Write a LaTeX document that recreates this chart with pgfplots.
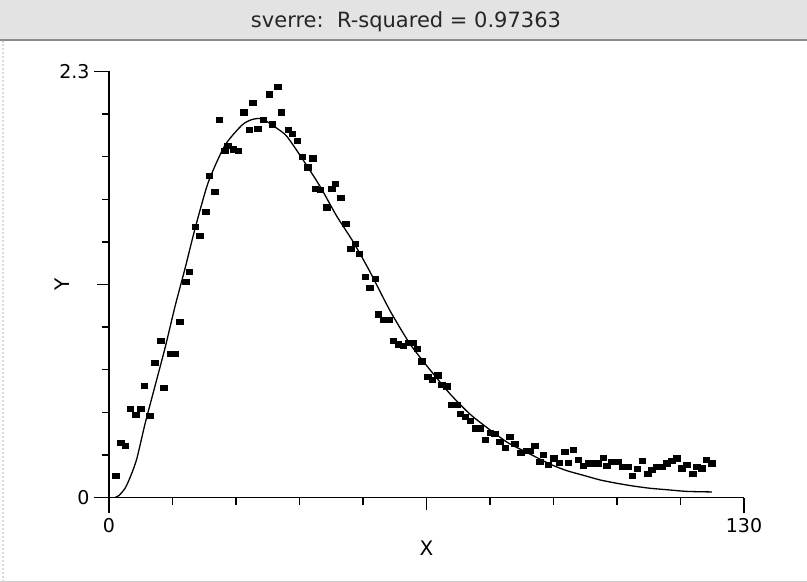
\documentclass[border=0pt]{standalone}
\usepackage{pgfplots}
\pgfplotsset{compat=1.18}
\usepackage{fontspec}
\setmainfont{DejaVu Sans}
\begin{document}
\begin{tikzpicture}
\useasboundingbox (-109bp,-84.5bp) rectangle (698bp,497.5bp);
% title bar
\fill[black!11] (-109bp,457bp) rectangle (698bp,497.5bp);
\draw[black!45,line width=1.2bp] (-109bp,457.5bp) -- (698bp,457.5bp);
\node[font=\fontsize{21bp}{24bp}\selectfont, text=black!85] at (297bp,475.5bp) {sverre:\ \ R-squared = 0.97363};
\draw[black!20,line width=1bp] (-109bp,-84bp) -- (698bp,-84bp);
\draw[black!15,line width=2bp,dotted] (-106bp,-84bp) -- (-106bp,457bp);
\begin{axis}[
  at={(0,0)}, anchor=south west,
  scale only axis, width=635bp, height=426bp,
  xmin=0, xmax=130, ymin=0, ymax=2.3,
  axis x line*=bottom, axis y line*=left,
  axis line style={-, line width=1.5bp},
  tick align=outside,
  xtick={0,130}, xticklabels={0,130},
  ytick={0,2.3}, yticklabels={0,2.3},
  minor xtick={13,26,39,52,78,91,104,117},
  minor ytick={0.23,0.46,0.69,0.92,1.38,1.61,1.84,2.07},
  extra x ticks={65}, extra x tick labels={},
  extra y ticks={1.15}, extra y tick labels={},
  extra tick style={major tick length=12bp},
  major tick length=15bp, minor tick length=7bp,
  every tick/.style={black, line width=1.5bp},
  tick label style={font=\fontsize{19bp}{22bp}\selectfont},
  /pgf/number format/assume math mode=true,
  xticklabel style={yshift=-2bp},
  yticklabel style={xshift=-1bp},
  xlabel={X}, ylabel={Y},
  label style={font=\fontsize{20bp}{23bp}\selectfont},
  xlabel style={at={(axis description cs:0.5,-0.118)}, anchor=center},
  ylabel style={at={(axis description cs:-0.074,0.5)}, anchor=center},
  clip=false,
]
\addplot[black, line width=1.3bp, no markers, smooth, tension=0.4] coordinates {
(1.2,0) (2,0.01) (3.3,0.05) (4.5,0.12) (5.7,0.21) (7.4,0.40) (9.4,0.60)
(11.5,0.81) (13.5,1.03) (15.6,1.24) (17.6,1.45) (20.3,1.70) (23.7,1.90)
(27.2,2.01) (29.2,2.04) (31.3,2.045) (34,2.00) (36.4,1.95) (39.8,1.82)
(43.2,1.68) (46.6,1.52) (50,1.38) (53.4,1.22) (57.5,1.01) (61.6,0.83)
(65.7,0.69) (69.8,0.56) (73.9,0.45) (78,0.365) (81.4,0.30) (83.5,0.27)
(86.9,0.225) (90.3,0.18) (93.7,0.145) (97.1,0.12) (100.5,0.095)
(103.9,0.077) (107.3,0.062) (110.7,0.05) (114.2,0.042) (118.3,0.033) (123.4,0.03)
};
\addplot[only marks, mark=square*, mark size=2.6bp, mark options={xscale=1.25, fill=black, draw=black}] coordinates {
(1.37,0.116) (2.4,0.296) (3.3,0.278) (4.3,0.478) (5.5,0.449) (6.5,0.478)
(7.2,0.602) (8.3,0.44) (9.4,0.728) (10.6,0.845) (11.2,0.593) (12.5,0.776)
(13.5,0.776) (14.5,0.949) (15.7,1.164) (16.4,1.22) (17.6,1.462) (18.6,1.414)
(19.8,1.543) (20.5,1.736) (21.6,1.65) (22.6,2.04) (23.7,1.871) (24.3,1.898)
(25.4,1.88) (26.5,1.871) (27.6,2.08) (28.7,1.984) (29.4,2.13) (30.4,1.99)
(31.6,2.04) (32.8,2.177) (33.4,2.015) (34.5,2.218) (35.3,2.08) (36.7,1.984)
(37.5,1.966) (38.5,1.927) (39.6,1.84) (40.7,1.783) (41.7,1.832) (42.2,1.667)
(43.2,1.66) (44.6,1.567) (45.6,1.667) (46.3,1.696) (47.4,1.62) (48.5,1.477)
(49.5,1.345) (50.4,1.372) (51.2,1.318) (52.4,1.192) (53.4,1.134) (54.5,1.183)
(55.1,0.99) (56.2,0.958) (57.3,0.958) (58.2,0.846) (59.2,0.828) (60.2,0.82)
(61.3,0.835) (62.3,0.835) (63.1,0.805) (64.0,0.736) (65.2,0.652) (66.2,0.634)
(67.3,0.66) (68.1,0.607) (69.1,0.601) (70.2,0.499) (71.2,0.499) (71.9,0.454)
(72.9,0.436) (73.9,0.415) (75.1,0.374) (75.9,0.374) (77.0,0.314) (78.0,0.35)
(79.0,0.343) (80.0,0.30) (81.1,0.27) (82.0,0.327) (83.1,0.289) (84.3,0.242)
(85.5,0.253) (86.2,0.253) (87.1,0.28) (88.2,0.193) (88.9,0.233) (89.9,0.175)
(91.0,0.212) (92.2,0.19) (93.3,0.247) (94.0,0.19) (95.0,0.256) (96.1,0.202)
(97.1,0.17) (98.1,0.185) (99.1,0.185) (100.2,0.185) (101.2,0.217) (101.9,0.17)
(102.9,0.193) (104.1,0.193) (105.1,0.166) (106.3,0.166) (107.1,0.116) (108.1,0.154)
(109.2,0.197) (110.3,0.127) (111.1,0.148) (112.1,0.166) (113.1,0.166) (114.2,0.185)
(115.2,0.199) (116.2,0.212) (117.2,0.158) (118.3,0.175) (119.5,0.127) (120.3,0.166)
(121.3,0.158) (122.3,0.202) (123.4,0.185)
};
\end{axis}
\end{tikzpicture}
\end{document}
